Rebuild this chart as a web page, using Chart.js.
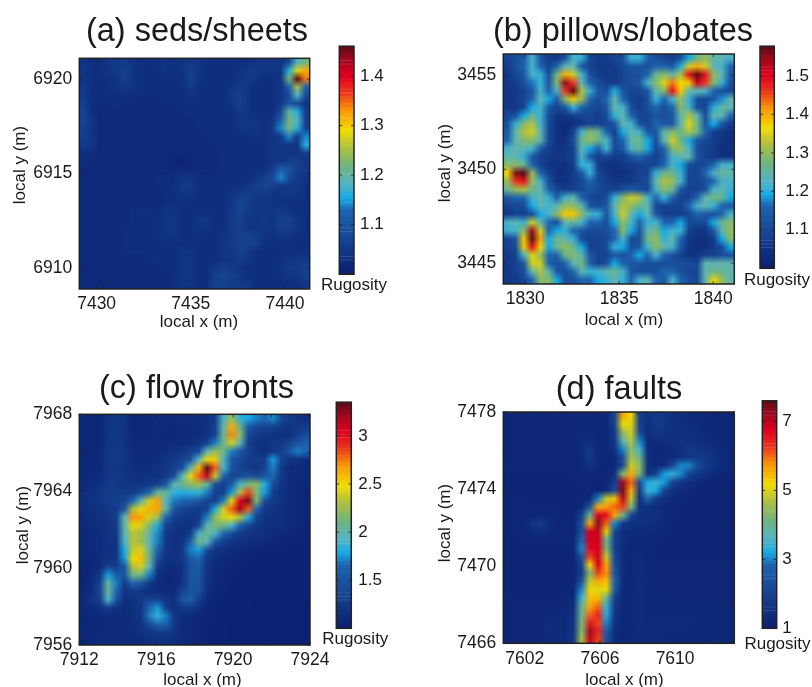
<!DOCTYPE html>
<html>
<head>
<meta charset="utf-8">
<script src="https://cdn.jsdelivr.net/npm/chart.js@4"></script>
<style>
html, body { margin: 0; padding: 0; background: #fff; overflow: hidden; width: 812px; height: 687px; }
canvas { position: absolute; }
</style>
</head>
<body>
<script>
// Rugosity x 100, rows top to bottom
const rugosityA = [
[104,103,103,104,105,105,104,103,103,103,104,103,104,105,104,103,103,103,103,103,103,104,104,104,104,108,118,122],
[104,103,103,104,105,106,104,103,103,103,104,103,104,106,104,103,103,103,103,104,105,105,104,104,104,116,128,132],
[104,103,103,103,104,106,104,103,103,103,103,103,103,106,104,103,103,103,103,104,105,104,103,103,104,122,146,134],
[105,103,103,103,104,104,104,103,103,103,103,103,103,105,103,103,103,103,104,105,104,103,103,103,104,112,125,112],
[105,103,103,103,103,103,103,103,103,103,103,103,103,104,103,103,103,103,105,106,104,103,103,103,104,108,118,108],
[106,103,102,103,103,103,102,102,102,102,102,103,103,103,103,103,103,103,104,106,104,103,103,103,105,110,108,104],
[107,103,102,102,102,102,102,102,102,102,102,102,103,103,103,103,103,103,103,105,104,103,103,103,108,120,116,105],
[107,104,102,102,102,102,102,102,102,102,102,102,102,102,103,103,103,103,103,104,104,104,103,104,112,122,118,106],
[106,104,102,102,102,102,102,102,102,102,102,102,102,102,103,103,103,103,103,104,104,104,103,105,114,122,116,106],
[106,104,102,102,102,102,102,102,102,102,102,102,102,102,102,103,103,103,103,103,103,104,103,104,105,114,105,114],
[105,104,102,102,102,102,102,102,102,102,102,102,102,102,102,102,103,103,103,103,103,103,103,104,105,104,104,116],
[103,103,102,102,102,102,102,102,102,102,102,102,102,102,102,102,102,103,103,103,103,103,103,104,104,104,104,106],
[103,102,102,102,102,102,102,102,102,102,102,101,101,102,102,102,102,103,103,103,103,103,103,104,104,106,106,104],
[102,102,102,102,102,102,102,102,102,102,102,102,102,102,102,102,102,103,103,103,103,103,103,106,112,110,106,105],
[102,102,102,102,102,102,102,102,102,103,103,103,104,104,103,103,103,103,103,103,103,104,106,108,114,108,105,104],
[102,102,102,102,102,102,102,102,102,103,103,103,105,105,103,103,103,103,103,103,104,106,107,106,104,105,105,103],
[102,102,102,102,102,102,102,102,102,102,103,103,104,104,103,103,103,103,104,105,106,105,105,104,104,105,104,103],
[102,102,102,102,102,102,102,102,102,102,103,103,103,103,103,103,103,103,104,107,106,104,104,104,103,103,103,103],
[102,102,102,102,102,102,103,103,103,103,104,104,103,103,103,103,103,103,105,107,105,104,104,104,105,104,103,103],
[102,102,102,102,102,102,103,103,103,103,104,104,103,103,104,104,103,103,105,106,104,104,105,104,106,106,104,103],
[102,102,102,102,102,103,103,103,103,103,104,104,103,103,104,104,103,103,105,106,104,104,104,104,106,106,104,103],
[102,102,102,102,102,103,103,103,103,103,104,104,103,103,103,103,103,104,105,106,106,105,104,103,104,104,103,103],
[102,102,102,102,102,103,103,103,103,103,103,103,103,103,103,103,103,104,105,106,106,106,103,103,103,103,103,103],
[102,102,102,102,102,103,103,103,103,103,103,103,104,104,103,103,103,104,104,106,105,103,103,103,103,103,103,103],
[102,102,102,102,102,102,102,102,103,103,103,103,104,104,103,103,103,104,104,105,104,103,103,103,103,104,105,105],
[102,102,102,102,102,102,102,102,102,102,103,103,104,104,103,103,105,106,105,104,103,103,103,103,104,105,105,106],
[102,102,102,102,102,102,102,102,102,102,102,103,104,104,103,103,106,107,106,105,103,103,103,103,103,104,104,106],
[102,102,102,102,102,102,102,102,102,102,102,103,104,104,103,103,106,106,105,105,105,103,103,103,103,103,103,104]
];
const rugosityB = [
[109,111,113,122,113,107,106,111,122,121,109,106,107,109,111,121,121,116,111,109,107,111,119,127,130,124,124,122],
[107,111,116,122,116,109,116,124,124,113,109,106,106,107,110,113,113,111,116,116,113,120,134,140,134,124,122,116],
[106,109,113,122,121,111,127,140,134,122,111,107,106,106,109,111,111,116,126,129,124,132,149,158,149,130,124,113],
[106,107,111,117,121,113,129,155,146,124,116,111,107,106,109,111,113,122,129,135,143,136,138,152,146,129,121,111],
[105,106,109,113,122,116,122,146,158,132,121,113,111,120,113,109,109,113,124,129,149,138,124,124,122,116,111,109],
[105,106,109,116,124,119,113,129,138,130,116,111,116,124,116,109,107,111,121,116,122,130,121,111,109,113,118,124],
[106,106,109,119,122,113,109,113,121,116,111,109,113,124,122,111,107,111,116,111,116,129,122,111,109,120,125,124],
[109,111,119,126,121,111,105,105,107,108,109,107,111,121,124,116,109,109,113,111,113,124,132,124,111,124,124,116],
[111,121,129,132,122,110,104,103,104,106,108,108,109,113,124,122,111,109,116,113,113,124,135,127,113,119,113,107],
[113,124,132,134,124,110,104,103,108,122,129,126,116,108,119,124,122,113,113,124,129,127,132,127,116,107,106,104],
[116,124,129,129,124,110,104,104,111,126,130,127,122,110,116,124,127,119,111,124,134,127,119,113,110,107,105,104],
[122,124,124,122,113,108,105,105,108,124,119,115,122,110,113,122,126,119,110,116,129,130,122,111,108,107,104,104],
[124,124,121,113,108,106,105,106,108,122,113,107,109,107,107,112,116,111,108,113,122,124,124,113,108,106,104,104],
[129,129,126,116,108,105,104,104,107,121,121,107,104,104,106,107,108,108,109,116,122,119,111,109,111,116,122,122],
[137,156,158,130,116,108,104,104,107,113,121,110,106,104,104,106,108,109,121,127,127,121,109,109,116,122,126,124],
[130,146,149,130,122,111,105,104,107,110,116,110,107,106,106,106,108,111,124,132,130,122,109,109,111,116,122,122],
[126,130,132,126,124,116,109,107,108,110,113,110,108,108,111,113,111,109,122,129,126,113,108,108,111,122,124,121],
[113,116,116,122,124,121,116,122,124,116,110,108,111,121,129,134,132,122,116,121,116,108,108,116,124,127,126,119],
[108,110,110,119,124,122,124,130,130,124,113,110,113,124,132,130,126,124,110,108,108,108,116,122,124,121,116,113],
[105,108,108,110,119,122,129,138,138,129,122,121,113,122,134,124,119,124,113,108,107,107,110,116,113,111,116,122],
[122,124,121,134,124,116,111,124,126,122,116,116,111,119,130,122,116,121,122,116,116,119,110,110,110,119,126,129],
[121,122,129,154,134,116,119,121,116,113,110,110,111,116,129,119,113,124,127,119,122,121,108,105,105,113,124,130],
[108,113,138,158,141,119,127,124,121,110,108,108,110,116,122,110,111,127,130,121,124,116,105,104,104,107,119,129],
[108,110,135,149,137,119,126,130,126,119,108,108,111,121,119,111,113,122,129,124,122,113,105,104,104,107,110,119],
[106,108,122,135,130,116,116,126,129,124,113,108,108,113,111,116,119,116,122,116,111,108,105,105,108,108,111,111],
[106,108,113,134,134,116,111,116,124,127,116,108,111,119,116,113,113,111,111,111,111,111,111,109,124,124,124,124],
[106,108,111,124,132,124,113,111,116,124,121,122,124,126,122,113,111,111,111,116,116,111,109,109,124,127,126,124],
[106,106,109,116,129,129,119,111,111,116,116,119,121,124,121,116,122,124,116,113,122,116,111,109,124,137,130,124]
];
const rugosityC = [
[110,108,108,118,122,118,108,108,110,112,112,112,114,114,116,118,128,190,225,185,178,170,165,172,140,125,120,115],
[110,108,108,120,124,118,108,108,110,112,110,110,110,112,114,118,130,200,262,210,155,140,138,130,125,120,125,128],
[110,108,108,120,124,118,108,108,110,110,108,108,110,112,114,120,135,205,272,220,140,125,120,120,115,118,130,140],
[108,108,108,120,124,118,110,110,110,110,110,112,112,115,120,132,170,210,240,195,130,120,118,122,125,135,150,160],
[108,108,110,122,125,120,112,110,110,112,115,118,122,130,140,195,225,210,170,150,132,122,115,122,130,150,170,165],
[108,108,110,122,125,120,112,112,112,115,120,125,135,150,195,245,255,190,150,140,128,125,128,175,135,120,118,115],
[108,108,110,120,124,120,115,112,115,118,122,130,145,195,260,335,280,190,150,135,125,122,135,170,125,112,112,110],
[108,110,112,122,125,122,118,115,118,120,125,140,195,245,280,310,235,165,135,140,150,140,150,165,125,112,110,110],
[110,112,115,125,125,122,120,120,125,130,150,195,210,220,225,205,145,130,155,190,215,220,180,145,120,112,110,108],
[115,118,122,128,128,125,128,140,165,205,205,185,180,182,185,170,130,130,175,230,285,215,175,130,118,112,110,108],
[115,118,122,128,130,135,165,195,240,265,195,170,165,160,150,135,130,170,245,305,330,215,140,125,118,112,110,108],
[112,115,118,122,128,150,230,245,262,265,200,150,135,130,125,130,180,240,280,320,280,165,125,120,115,112,110,108],
[112,115,118,122,128,195,270,265,240,225,165,130,125,122,125,170,220,240,245,230,180,135,120,118,115,112,110,108],
[110,112,115,118,125,200,245,240,215,180,135,122,118,118,135,195,215,210,190,160,135,122,118,115,115,112,108,106],
[110,110,112,118,122,195,232,228,200,172,125,118,115,125,190,210,190,165,140,125,120,118,115,112,110,108,106,106],
[108,110,112,118,122,190,232,228,195,170,125,115,118,165,210,195,150,130,120,118,115,112,110,108,106,106,106,105],
[108,110,112,118,120,180,235,242,205,160,122,118,122,170,175,140,120,115,112,110,108,106,106,106,106,105,105,105],
[108,108,112,118,120,175,250,258,210,145,120,118,122,155,165,125,115,110,108,106,106,105,105,105,105,105,105,105],
[108,108,112,135,130,155,230,240,195,125,115,112,118,150,155,122,110,108,106,106,105,105,105,105,105,105,105,105],
[106,110,125,175,160,150,210,210,170,118,110,108,118,150,155,120,110,108,106,105,105,105,105,105,105,105,105,105],
[106,112,135,200,170,125,165,150,125,112,108,108,118,150,150,118,108,106,105,105,105,105,105,105,105,105,105,105],
[108,115,138,205,165,120,125,120,115,112,110,112,135,150,148,115,108,106,105,105,105,105,105,105,105,105,105,105],
[110,122,130,190,150,115,118,125,135,135,120,118,150,160,130,110,106,105,105,105,105,104,104,104,104,104,104,104],
[110,112,115,125,118,112,115,122,165,175,130,115,125,125,115,108,106,105,105,105,105,104,104,104,104,104,104,104],
[108,110,110,112,112,112,115,120,170,185,170,125,112,110,108,106,106,105,105,104,104,104,104,104,104,104,104,104],
[108,108,108,110,110,110,112,118,140,165,160,125,112,108,106,106,105,105,104,104,104,104,104,104,104,104,104,104],
[108,108,110,112,112,112,115,118,122,125,125,118,112,110,108,106,105,105,104,104,104,104,104,104,104,104,104,104],
[106,108,110,112,112,110,110,112,115,118,118,115,110,108,106,105,105,105,104,104,104,104,104,104,104,104,104,104]
];
const rugosityD = [
[120,120,120,120,120,120,120,120,122,125,128,125,130,200,560,520,180,150,170,160,150,140,135,130,130,125,125,125],
[120,120,120,120,120,120,120,120,122,125,130,125,130,190,510,500,190,150,175,165,150,145,140,135,130,125,125,125],
[120,120,120,120,120,120,120,120,125,130,130,125,130,170,440,490,220,140,160,150,150,150,145,140,130,125,125,125],
[120,120,120,120,120,120,120,120,125,135,145,125,125,160,380,470,300,135,140,140,145,150,150,140,135,130,125,125],
[120,120,120,120,120,120,120,120,125,140,165,130,125,150,300,440,350,135,125,130,135,150,165,155,150,140,130,125],
[120,120,120,120,120,120,120,120,125,130,170,130,120,130,230,460,400,140,125,130,135,150,170,175,165,150,135,125],
[120,120,120,120,120,120,120,120,120,125,150,130,118,130,220,490,440,150,130,140,210,300,300,220,170,150,135,125],
[118,118,120,120,120,120,120,118,120,122,130,120,120,150,430,560,420,150,190,310,340,300,195,165,150,135,125,120],
[118,118,118,118,118,118,118,118,118,120,122,118,125,180,720,600,220,320,345,310,200,160,145,135,125,120,118,115],
[118,118,118,118,118,118,118,115,115,118,120,118,135,230,740,560,170,345,320,200,150,135,125,120,115,115,115,115],
[122,120,118,118,118,118,118,115,115,118,125,300,480,540,700,480,150,280,170,140,130,125,120,115,115,115,115,115],
[120,120,120,120,120,120,118,115,118,130,250,560,570,600,620,420,150,150,135,130,125,120,115,115,115,115,115,115],
[120,120,122,125,130,125,120,118,120,190,400,680,660,560,400,200,150,145,150,130,125,120,115,115,115,115,115,115],
[120,120,125,155,175,140,125,120,125,230,560,735,600,300,170,150,145,150,140,128,120,118,115,115,115,115,115,115],
[120,120,122,135,145,130,122,120,122,240,680,700,500,200,140,135,135,130,130,125,120,118,115,115,115,115,115,115],
[118,118,120,120,122,120,120,118,122,280,680,690,400,190,140,125,130,125,120,120,118,118,115,115,115,115,115,115],
[118,118,118,118,118,118,118,118,122,300,670,680,420,190,135,125,130,125,120,118,118,118,118,118,118,118,118,118],
[118,118,118,118,118,118,118,118,122,240,620,690,480,210,130,125,135,125,120,118,118,118,118,118,118,118,118,118],
[118,118,118,118,118,118,118,118,120,200,520,680,560,230,140,125,135,125,120,120,120,120,120,120,120,120,120,120],
[118,118,118,118,118,118,118,118,120,180,430,620,580,240,135,125,135,125,122,122,122,120,120,120,120,120,120,120],
[118,118,118,118,118,118,118,118,120,240,480,560,540,280,130,125,140,128,122,122,122,122,120,120,120,120,120,120],
[118,118,118,118,118,118,118,118,125,300,520,500,510,250,130,125,140,128,125,122,122,122,122,122,120,120,120,120],
[120,120,120,120,120,120,120,120,130,340,540,540,400,190,128,125,135,128,125,125,125,125,122,122,122,122,122,122],
[120,120,120,120,120,122,125,125,140,390,560,600,340,170,125,125,135,130,125,125,125,125,125,125,125,125,125,125],
[120,120,120,120,122,128,130,128,150,400,600,640,330,160,125,128,135,130,128,128,128,130,130,128,125,125,125,125],
[120,120,120,122,125,135,138,130,155,420,650,620,300,150,122,128,135,130,128,128,128,130,130,128,125,125,125,125],
[120,120,120,122,128,140,138,135,160,430,720,640,260,140,122,128,132,128,128,128,128,128,128,125,125,125,125,125],
[120,120,120,122,125,135,135,135,160,460,700,620,240,140,125,128,130,128,128,128,125,125,125,125,125,125,125,125]
];

const titles = ['(a) seds/sheets', '(b) pillows/lobates', '(c) flow fronts', '(d) faults'];
const xRanges = [[7429.08, 7441.31], [1828.83, 1841.12], [7912, 7924], [7600.86, 7613.15]];
const yRanges = [[6908.9, 6921.1], [3443.9, 3456.13], [7956, 7968], [7466, 7478]];
const xTickLabels = [[7430, 7435, 7440], [1830, 1835, 1840], [7912, 7916, 7920, 7924], [7602, 7606, 7610]];
const yTickLabels = [[6910, 6915, 6920], [3445, 3450, 3455], [7956, 7960, 7964, 7968], [7466, 7470, 7474, 7478]];
const xTickMarks = [[7430, 7435, 7440], [1830, 1835, 1840], [7912, 7914, 7916, 7918, 7920, 7922, 7924], [7602, 7604, 7606, 7608, 7610, 7612]];
const yTickMarks = [[6910, 6915, 6920], [3445, 3450, 3455], [7956, 7958, 7960, 7962, 7964, 7966, 7968], [7466, 7468, 7470, 7472, 7474, 7476, 7478]];
const barRanges = [[1, 1.46], [1, 1.577], [1, 3.35], [1, 7.6]];
const barTicks = [[1.1, 1.2, 1.3, 1.4], [1.1, 1.2, 1.3, 1.4, 1.5], [1.5, 2, 2.5, 3], [1, 3, 5, 7]];
const barTickText = [['1.1', '1.2', '1.3', '1.4'], ['1.1', '1.2', '1.3', '1.4', '1.5'], ['1.5', '2', '2.5', '3'], ['1', '3', '5', '7']];

// colour map of the colour bars
const mapStops = [
  [0, 10, 30, 110], [0.12, 20, 60, 140], [0.28, 30, 100, 175], [0.33, 20, 170, 230], [0.40, 90, 180, 190],
  [0.47, 110, 180, 130], [0.55, 170, 190, 70], [0.63, 240, 220, 0], [0.72, 250, 150, 10], [0.80, 235, 50, 30],
  [0.87, 225, 0, 30], [0.95, 150, 10, 30], [1, 90, 10, 20]
];
function mapColor(t) {
  t = Math.max(0, Math.min(1, t));
  let i = 0;
  while (i < mapStops.length - 2 && t > mapStops[i + 1][0]) i++;
  const a = mapStops[i], b = mapStops[i + 1], f = (t - a[0]) / (b[0] - a[0]);
  return 'rgb(' + [1, 2, 3].map(k => Math.round(a[k] + (b[k] - a[k]) * f)).join(',') + ')';
}

// smooth image of the cells, placed with the chart's scales
const heatPlugin = {
  id: 'heat',
  beforeDatasetsDraw(chart) {
    const o = chart.options.plugins.heat;
    const n = o.size, pts = chart.data.datasets[0].data;
    const off = document.createElement('canvas');
    off.width = n; off.height = n;
    const c = off.getContext('2d');
    pts.forEach((p, k) => {
      c.fillStyle = mapColor((p.v - o.lo) / (o.hi - o.lo));
      c.fillRect(k % n, Math.floor(k / n), 1, 1);
    });
    const x = chart.scales.x, y = chart.scales.y, ctx = chart.ctx;
    const l = x.getPixelForValue(x.min), r = x.getPixelForValue(x.max);
    const t = y.getPixelForValue(y.max), b = y.getPixelForValue(y.min);
    ctx.save();
    ctx.imageSmoothingEnabled = true;
    ctx.imageSmoothingQuality = 'medium';
    ctx.drawImage(off, l, t, r - l, b - t);
    ctx.restore();
  }
};

// frame, inward tick marks and free placed labels
const framePlugin = {
  id: 'frame',
  afterDraw(chart) {
    const o = chart.options.plugins.frame, a = chart.chartArea, ctx = chart.ctx;
    ctx.save();
    ctx.strokeStyle = '#222';
    ctx.lineWidth = 0.8;
    ctx.beginPath();
    (o.xMarks || []).forEach(v => {
      const p = chart.scales.x.getPixelForValue(v);
      ctx.moveTo(p, a.top); ctx.lineTo(p, a.top + 3);
      ctx.moveTo(p, a.bottom); ctx.lineTo(p, a.bottom - 3);
    });
    (o.yMarks || []).forEach(v => {
      const p = chart.scales.y.getPixelForValue(v);
      ctx.moveTo(a.left, p); ctx.lineTo(a.left + 3, p);
      ctx.moveTo(a.right, p); ctx.lineTo(a.right - 3, p);
    });
    ctx.stroke();
    ctx.lineWidth = 1.5;
    ctx.strokeRect(a.left, a.top, a.right - a.left, a.bottom - a.top);
    ctx.fillStyle = '#1a1a1a';
    ctx.font = '17px "Liberation Sans"';
    ctx.textAlign = 'center';
    ctx.textBaseline = 'middle';
    (o.labels || []).forEach(t => {
      ctx.save();
      ctx.translate(t.x, t.y);
      if (t.rotate) ctx.rotate(-Math.PI / 2);
      ctx.fillText(t.text, 0, 0);
      ctx.restore();
    });
    ctx.restore();
  }
};

function addCanvas(left, top, w, h) {
  const cv = document.createElement('canvas');
  cv.width = w; cv.height = h;
  cv.style.left = left + 'px';
  cv.style.top = top + 'px';
  document.body.appendChild(cv);
  return cv;
}

function heatChart(i, grid, box, plot, titlePad, yLabel, xLabel) {
  const n = grid.length;
  const [xMin, xMax] = xRanges[i], [yMin, yMax] = yRanges[i];
  const cells = [];
  grid.forEach((row, r) => row.forEach((v, c) => cells.push({
    x: xMin + (c + 0.5) * (xMax - xMin) / n,
    y: yMax - (r + 0.5) * (yMax - yMin) / n,
    v: v / 100
  })));
  new Chart(addCanvas(box[0], box[1], box[2], box[3]), {
    type: 'scatter',
    data: { datasets: [{ data: cells, pointRadius: 0 }] },
    plugins: [heatPlugin, framePlugin],
    options: {
      responsive: false,
      animation: false,
      events: [],
      plugins: {
        legend: { display: false },
        tooltip: { enabled: false },
        title: {
          display: true, text: titles[i], color: '#1a1a1a',
          font: { family: 'Liberation Sans', size: 32.5, weight: 'normal' },
          padding: { top: titlePad[0], bottom: titlePad[1] }
        },
        heat: { size: n, lo: barRanges[i][0], hi: barRanges[i][1] },
        frame: {
          xMarks: xTickMarks[i], yMarks: yTickMarks[i],
          labels: [
            { text: 'local y (m)', x: yLabel[0] - box[0], y: yLabel[1] - box[1], rotate: true },
            { text: 'local x (m)', x: xLabel[0] - box[0], y: xLabel[1] - box[1] }
          ]
        }
      },
      scales: {
        x: {
          type: 'linear', min: xMin, max: xMax,
          grid: { display: false, drawTicks: false }, border: { display: false },
          afterBuildTicks: s => { s.ticks = xTickLabels[i].map(v => ({ value: v })); },
          afterFit: s => { s.height = box[1] + box[3] - plot[3]; },
          ticks: {
            autoSkip: false, maxRotation: 0, padding: 5, color: '#1a1a1a',
            font: { family: 'Liberation Sans', size: 17.5 }, callback: v => String(v)
          }
        },
        y: {
          type: 'linear', min: yMin, max: yMax,
          grid: { display: false, drawTicks: false }, border: { display: false },
          afterBuildTicks: s => { s.ticks = yTickLabels[i].map(v => ({ value: v })); },
          afterFit: s => { s.width = plot[0] - box[0]; },
          ticks: {
            autoSkip: false, padding: 7, color: '#1a1a1a',
            font: { family: 'Liberation Sans', size: 17.5 }, callback: v => String(v)
          }
        },
        // empty axis that keeps room for the colour bar, the title stays centred on the canvas
        side: {
          axis: 'y', type: 'linear', position: 'right',
          grid: { display: false, drawTicks: false }, border: { display: false },
          ticks: { display: false },
          afterFit: s => { s.width = box[0] + box[2] - plot[2]; }
        }
      }
    }
  });
}

function colorBar(i, box, bar, gap, label) {
  const [lo, hi] = barRanges[i];
  const steps = 64, sets = [];
  for (let k = 0; k < steps; k++) {
    const col = mapColor((k + 0.5) / steps);
    sets.push({
      data: [[lo + k * (hi - lo) / steps, lo + (k + 1) * (hi - lo) / steps]],
      backgroundColor: col, borderColor: col, borderWidth: 0.5, borderSkipped: false,
      barPercentage: 1, categoryPercentage: 1, grouped: false
    });
  }
  new Chart(addCanvas(box[0], box[1], box[2], box[3]), {
    type: 'bar',
    data: { labels: ['Rugosity'], datasets: sets },
    plugins: [framePlugin],
    options: {
      responsive: false,
      animation: false,
      events: [],
      layout: { padding: { left: bar[0] - box[0], top: bar[1] - box[1], bottom: box[1] + box[3] - bar[3], right: 0 } },
      plugins: {
        legend: { display: false },
        tooltip: { enabled: false },
        frame: {
          yMarks: barTicks[i],
          labels: [{ text: 'Rugosity', x: label[0] - box[0], y: label[1] - box[1] }]
        }
      },
      scales: {
        x: { display: false },
        y: {
          position: 'right', min: lo, max: hi,
          grid: { display: false, drawTicks: false }, border: { display: false },
          afterBuildTicks: s => { s.ticks = barTicks[i].map(v => ({ value: v })); },
          afterFit: s => { s.width = box[0] + box[2] - bar[2]; },
          ticks: {
            autoSkip: false, padding: gap, color: '#1a1a1a',
            font: { family: 'Liberation Sans', size: 17 },
            callback: v => barTickText[i][barTicks[i].indexOf(v)]
          }
        }
      }
    }
  });
}

heatChart(0, rugosityA, [0, 0, 394, 340], [79.3, 58.3, 309.7, 289], [12.8, 6.5], [20, 165], [199, 322]);
heatChart(1, rugosityB, [430, 0, 386, 340], [503.3, 54, 734.3, 284], [12.8, 2.2], [445, 163], [624, 320]);
heatChart(2, rugosityC, [0, 350, 393, 337], [79.3, 414.3, 310, 645], [19.8, 5.5], [23, 525], [202.5, 680]);
heatChart(3, rugosityD, [430, 350, 378, 337], [503.3, 412, 734.3, 643.3], [20.8, 2.2], [445, 523], [624.5, 680]);

colorBar(0, [315, 30, 97, 270], [339.3, 44, 354, 274.3], 6, [354, 285]);
colorBar(1, [740, 25, 72, 270], [760, 38.3, 774.3, 268.3], 11, [777, 280]);
colorBar(2, [315, 385, 97, 268], [336.3, 397.7, 351.3, 628.3], 7, [355.3, 639.3]);
colorBar(3, [740, 385, 72, 272], [762.3, 397.7, 776.7, 628.3], 5.6, [777.5, 644]);
</script>
</body>
</html>
